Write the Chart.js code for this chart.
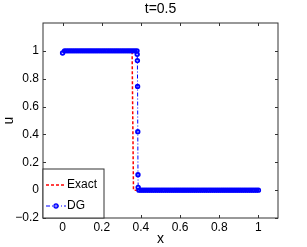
<!DOCTYPE html>
<html>
<head>
<meta charset="utf-8">
<script src="https://cdn.jsdelivr.net/npm/chart.js@4/dist/chart.umd.min.js"></script>
<style>
  html, body { margin: 0; padding: 0; background: #fff; }
</style>
</head>
<body>
<canvas id="chart" width="307" height="247"></canvas>
<script>
// data
const exactX = [0, 0.355, 0.362, 1];
const exactU = [1, 1, 0, 0];

const dgX = [
  0, 0.01, 0.02, 0.03, 0.04, 0.05, 0.06, 0.07, 0.08, 0.09,
  0.10, 0.11, 0.12, 0.13, 0.14, 0.15, 0.16, 0.17, 0.18, 0.19,
  0.20, 0.21, 0.22, 0.23, 0.24, 0.25, 0.26, 0.27, 0.28, 0.29,
  0.30, 0.31, 0.32, 0.33, 0.34, 0.35, 0.36, 0.37, 0.38,
  0.381, 0.382, 0.383, 0.384, 0.385, 0.386,
  0.39, 0.40, 0.41, 0.42, 0.43, 0.44, 0.45, 0.46, 0.47, 0.48, 0.49,
  0.50, 0.51, 0.52, 0.53, 0.54, 0.55, 0.56, 0.57, 0.58, 0.59,
  0.60, 0.61, 0.62, 0.63, 0.64, 0.65, 0.66, 0.67, 0.68, 0.69,
  0.70, 0.71, 0.72, 0.73, 0.74, 0.75, 0.76, 0.77, 0.78, 0.79,
  0.80, 0.81, 0.82, 0.83, 0.84, 0.85, 0.86, 0.87, 0.88, 0.89,
  0.90, 0.91, 0.92, 0.93, 0.94, 0.95, 0.96, 0.97, 0.98, 0.99, 1.00
];
const dgU = [
  0.985, 1, 1, 1, 1, 1, 1, 1, 1, 1,
  1, 1, 1, 1, 1, 1, 1, 1, 1, 1,
  1, 1, 1, 1, 1, 1, 1, 1, 1, 1,
  1, 1, 1, 1, 1, 1, 1, 1, 1,
  0.975, 0.93, 0.745, 0.42, 0.11, 0.02,
  0, 0, 0, 0, 0, 0, 0, 0, 0, 0, 0,
  0, 0, 0, 0, 0, 0, 0, 0, 0, 0,
  0, 0, 0, 0, 0, 0, 0, 0, 0, 0,
  0, 0, 0, 0, 0, 0, 0, 0, 0, 0,
  0, 0, 0, 0, 0, 0, 0, 0, 0, 0,
  0, 0, 0, 0, 0, 0, 0, 0, 0, 0, 0
];

const xTicks = [0, 0.2, 0.4, 0.6, 0.8, 1];
const yTicks = [-0.2, 0, 0.2, 0.4, 0.6, 0.8, 1];

const FONT = 'Liberation Sans, Arial, Helvetica, sans-serif';
const AXIS_COLOR = '#333333';

function fmt(v) {
  const s = String(Math.round(v * 10) / 10);
  return s.replace('-', '\u2212');
}

// frame, inside ticks, title, axis labels and legend, MATLAB style
const matlabFrame = {
  id: 'matlabFrame',
  afterDraw(chart) {
    const ctx = chart.ctx;
    const a = chart.chartArea;
    const xs = chart.scales.x, ys = chart.scales.y;
    const L = Math.round(a.left), R = Math.round(a.right);
    const T = Math.round(a.top), B = Math.round(a.bottom);
    const tl = 3;
    ctx.save();
    ctx.strokeStyle = AXIS_COLOR;
    ctx.lineWidth = 1;
    ctx.strokeRect(L, T, R - L, B - T);
    ctx.beginPath();
    xTicks.forEach(v => {
      const px = Math.round(xs.getPixelForValue(v)) + 0.5;
      ctx.moveTo(px, B); ctx.lineTo(px, B - tl);
      ctx.moveTo(px, T); ctx.lineTo(px, T + tl);
    });
    yTicks.forEach(v => {
      const py = Math.round(ys.getPixelForValue(v)) + 0.5;
      ctx.moveTo(L, py); ctx.lineTo(L + tl, py);
      ctx.moveTo(R, py); ctx.lineTo(R - tl, py);
    });
    ctx.stroke();

    // title and axis labels
    ctx.fillStyle = '#000';
    ctx.textAlign = 'center';
    ctx.textBaseline = 'middle';
    ctx.font = '14px ' + FONT;
    const cx = (a.left + a.right) / 2;
    ctx.fillText('t=0.5', cx, 9);
    ctx.fillText('x', cx, 239);
    ctx.save();
    ctx.translate(9, (a.top + a.bottom) / 2);
    ctx.rotate(-Math.PI / 2);
    ctx.fillText('u', 0, 0);
    ctx.restore();

    // legend box in the lower left corner
    const bx = L, by = 169, bw = 61, bh = B - by;
    ctx.fillStyle = '#fff';
    ctx.fillRect(bx, by, bw, bh);
    ctx.strokeStyle = AXIS_COLOR;
    ctx.strokeRect(bx, by, bw, bh);

    const items = chart.data.datasets;
    const rows = [185, 206];
    items.forEach((ds, i) => {
      const y = rows[i];
      ctx.strokeStyle = ds.borderColor;
      ctx.lineWidth = ds.borderWidth;
      ctx.setLineDash(ds.borderDash || []);
      ctx.beginPath();
      ctx.moveTo(bx + 3, y);
      ctx.lineTo(bx + 23, y);
      ctx.stroke();
      ctx.setLineDash([]);
      if (ds.pointRadius > 0) {
        ctx.lineWidth = 1.3;
        ctx.beginPath();
        ctx.arc(bx + 13, y, 2, 0, Math.PI * 2);
        ctx.stroke();
      }
      ctx.fillStyle = '#000';
      ctx.textAlign = 'left';
      ctx.font = '12px ' + FONT;
      ctx.fillText(ds.label, bx + 24, y);
    });
    ctx.restore();
  }
};

const tickFont = { family: FONT, size: 12 };

new Chart(document.getElementById('chart'), {
  type: 'scatter',
  data: {
    datasets: [
      {
        label: 'Exact',
        data: exactX.map((x, i) => ({ x, y: exactU[i] })),
        showLine: true,
        borderColor: '#ff0000',
        borderWidth: 1.5,
        borderDash: [3, 2],
        pointRadius: 0,
        order: 2
      },
      {
        label: 'DG',
        data: dgX.map((x, i) => ({ x, y: dgU[i] })),
        showLine: true,
        borderColor: '#0000ff',
        borderWidth: 1,
        borderDash: [4, 2, 1, 2],
        pointRadius: 1.8,
        pointBorderWidth: 1.8,
        pointBorderColor: '#0000ff',
        pointBackgroundColor: 'rgba(0,0,0,0)',
        order: 1
      }
    ]
  },
  options: {
    responsive: false,
    animation: false,
    devicePixelRatio: 1,
    layout: { padding: { top: 23, right: 29, left: 0, bottom: 0 } },
    plugins: {
      legend: { display: false },
      tooltip: { enabled: false },
      title: { display: false }
    },
    scales: {
      x: {
        type: 'linear',
        min: -0.1,
        max: 1.1,
        afterBuildTicks: s => { s.ticks = xTicks.map(v => ({ value: v })); },
        afterFit: s => { s.height = 29; },
        grid: { display: false, drawTicks: false },
        border: { display: false },
        ticks: { font: tickFont, color: '#000', padding: 2, maxRotation: 0, callback: v => fmt(v) }
      },
      y: {
        type: 'linear',
        min: -0.2,
        max: 1.2,
        afterBuildTicks: s => { s.ticks = yTicks.map(v => ({ value: v })); },
        afterFit: s => { s.width = 43; },
        grid: { display: false, drawTicks: false },
        border: { display: false },
        ticks: { font: tickFont, color: '#000', padding: 4, callback: v => fmt(v) }
      }
    }
  },
  plugins: [matlabFrame]
});
</script>
</body>
</html>
